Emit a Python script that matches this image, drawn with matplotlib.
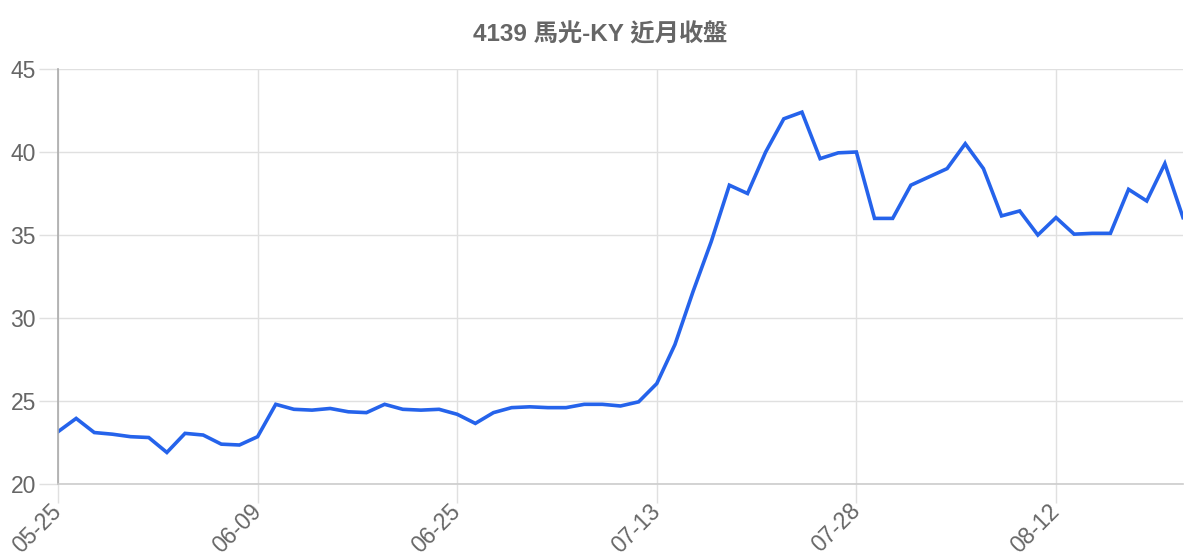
import matplotlib
matplotlib.use("Agg")
import matplotlib.pyplot as plt

title = "4139 馬光-KY 近月收盤"
closes = [23.15, 23.95, 23.1, 23.0, 22.85, 22.8, 21.9, 23.05, 22.95, 22.4, 22.35,
          22.85, 24.8, 24.5, 24.45, 24.55, 24.35, 24.3, 24.8, 24.5, 24.45, 24.5,
          24.2, 23.65, 24.3, 24.6, 24.65, 24.6, 24.6, 24.8, 24.8, 24.7, 24.95,
          26.05, 28.4, 31.6, 34.6, 38.0, 37.5, 40.0, 42.0, 42.4, 39.6, 39.95,
          40.0, 36.0, 36.0, 38.0, 38.5, 39.0, 40.5, 39.0, 36.15, 36.45, 35.0,
          36.05, 35.05, 35.1, 35.1, 37.75, 37.05, 39.3, 36.05]
tick_idx = [0, 11, 22, 33, 44, 55]
tick_labels = ["05-25", "06-09", "06-25", "07-13", "07-28", "08-12"]
y_ticks = [20, 25, 30, 35, 40, 45]

plt.rcParams['font.family'] = ['Liberation Sans', 'Noto Sans CJK TC', 'DejaVu Sans']

fig = plt.figure(figsize=(12, 5.6), dpi=100)
ax = fig.add_axes([58/1200, 1-484/560, (1183-58)/1200, (484-69)/560])

ax.plot(range(len(closes)), closes, color="#2563eb", linewidth=2.6, solid_joinstyle='miter')

ax.set_xlim(0, len(closes)-1)
ax.set_ylim(20, 45)
ax.set_yticks(y_ticks)
ax.set_xticks(tick_idx)
ax.set_xticklabels(tick_labels, rotation=45, ha='right', va='center', rotation_mode='anchor')

ax.grid(True, color="#e0e0e0", linewidth=1.0)
ax.set_axisbelow(True)
for s in ['top', 'right']:
    ax.spines[s].set_visible(False)
ax.spines['left'].set_color('#aaaaaa')
ax.spines['left'].set_linewidth(1.2)
ax.spines['bottom'].set_color('#cccccc')
ax.spines['bottom'].set_linewidth(1.2)
ax.tick_params(axis='both', colors='#e0e0e0', labelcolor='#666666', labelsize=16.5,
               length=14, width=1.0, pad=2)
ax.tick_params(axis='x', pad=3)

fig.text(600/1200, 1-35/560, title, ha='center', va='center', fontsize=17.5,
         fontweight='bold', color='#666666')

fig.savefig("out.png", dpi=100)
